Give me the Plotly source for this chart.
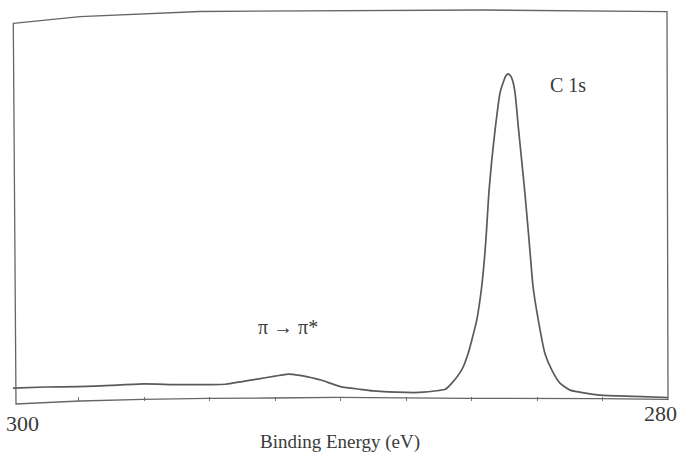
import plotly.graph_objects as go

# C 1s region: binding energy (eV) and relative intensity (a.u.)
binding_energy = [
    300.00, 299.00, 298.00, 297.00, 296.00, 295.00, 294.00, 293.50, 293.00, 292.50,
    292.00, 291.60, 291.25, 291.00, 290.60, 290.00, 289.40, 289.00, 288.00, 287.60,
    287.00, 286.80, 286.60, 286.30, 286.10, 285.84, 285.69, 285.59, 285.54, 285.47,
    285.38, 285.27, 285.13, 285.01, 284.95, 284.88, 284.81, 284.75, 284.67, 284.57,
    284.47, 284.37, 284.27, 284.21, 284.12, 283.96, 283.76, 283.55, 283.30, 282.99,
    282.78, 282.08, 281.01, 280.00,
]
intensity = [
    3.3, 3.6, 3.7, 4.0, 4.4, 4.2, 4.2, 4.3, 5.0, 5.7,
    6.4, 6.9, 6.6, 6.2, 5.4, 3.7, 3.0, 2.6, 2.2, 2.2,
    2.7, 3.0, 4.6, 8.0, 12.3, 20.8, 29.3, 38.1, 44.0, 53.5,
    62.0, 70.4, 79.2, 82.4, 83.6, 84.1, 83.6, 82.5, 79.2, 70.4,
    62.0, 53.5, 44.0, 38.1, 29.3, 20.8, 12.3, 8.0, 4.6, 2.8,
    2.4, 1.5, 1.2, 0.9,
]

# axis ticks (eV)
minor_ticks = [298, 296, 294, 292, 290, 288, 286, 284, 282]
end_labels = [300, 280]

# peak labels: (text, binding energy, intensity)
peak_labels = [("C 1s", 283.05, 81.2), ("π → π*", 291.6, 19.0)]

W, H = 683, 457
L, R, T, B = 13, 15, 12, 56
PW, PH = W - L - R, H - T - B

LINE = "#5a5a5a"
TEXT = "#3a3a3a"
SERIF = "Liberation Serif, Times New Roman, serif"


def to_paper(px, py):
    return (px - L) / PW, (H - B - py) / PH


# slightly bowed frame outline (pixel points, clockwise from top-left)
frame_pts = [
    (13.3, 23.3), (80, 16.7), (200, 11.5), (483, 10.0), (667, 11.7),
    (668, 399.3), (600, 398.7), (470, 398.3), (337, 397.3), (273, 398.0),
    (208, 398.3), (143, 399.3), (80, 401.0), (16, 404.0),
]
pp = [to_paper(x, y) for x, y in frame_pts]
frame_path = "M " + " L ".join(f"{x:.5f},{y:.5f}" for x, y in pp) + " Z"

fig = go.Figure()
fig.add_trace(go.Scatter(
    x=binding_energy, y=intensity, mode="lines",
    line=dict(color=LINE, width=1.7, shape="spline", smoothing=0.5),
    hoverinfo="skip", showlegend=False,
))

fig.add_shape(type="path", path=frame_path, xref="paper", yref="paper",
              line=dict(color="#666666", width=1.3), fillcolor="rgba(0,0,0,0)")

annotations = []
for text, xv, yv in peak_labels:
    annotations.append(dict(x=xv, y=yv, xref="x", yref="y", text=text,
                            xanchor="center", yanchor="middle",
                            showarrow=False, font=dict(family=SERIF, size=20, color=TEXT)))

# end-of-axis labels: (pixel x offset, paper y)
label_pos = {300: (9, -0.0566), 280: (-8, -0.031)}
for v in end_labels:
    xs, yp = label_pos[v]
    annotations.append(dict(x=v, y=yp, xref="x", yref="paper", text=str(v),
                            xshift=xs, xanchor="center", yanchor="middle",
                            showarrow=False,
                            font=dict(family=SERIF, size=22, color=TEXT)))

annotations.append(dict(x=0.499, y=-0.105, xref="paper", yref="paper",
                        text="Binding Energy (eV)", showarrow=False,
                        xanchor="center", yanchor="middle",
                        font=dict(family=SERIF, size=19, color=TEXT)))

fig.update_layout(
    width=W, height=H, autosize=False,
    margin=dict(l=L, r=R, t=T, b=B),
    paper_bgcolor="white", plot_bgcolor="white",
    annotations=annotations,
    xaxis=dict(range=[300, 280], showgrid=False, zeroline=False, showline=False,
               tickvals=minor_ticks, ticks="inside", ticklen=4, tickwidth=1.2,
               tickcolor="#777777", showticklabels=False),
    yaxis=dict(range=[0, 100], showgrid=False, zeroline=False, showline=False,
               showticklabels=False, ticks=""),
)

fig.write_html("out.html")
